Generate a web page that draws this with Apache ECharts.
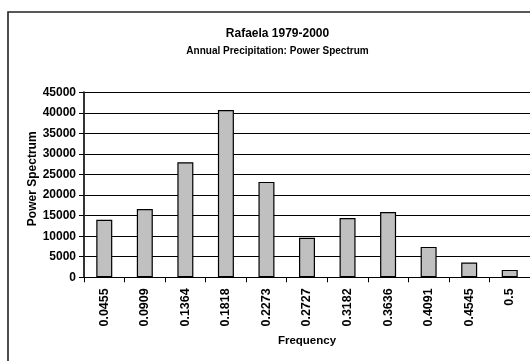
<!DOCTYPE html>
<html>
<head>
<meta charset="utf-8">
<script src="https://cdn.jsdelivr.net/npm/echarts@6/dist/echarts.min.js"></script>
<style>
  html, body { margin: 0; padding: 0; background: #fff; }
  #chart { width: 530px; height: 361px; }
</style>
</head>
<body>
<div id="chart"></div>
<script>
// Rafaela 1979-2000 annual precipitation: power spectrum by frequency
var frequencies = ['0.0455', '0.0909', '0.1364', '0.1818', '0.2273', '0.2727',
                   '0.3182', '0.3636', '0.4091', '0.4545', '0.5'];
var powerValues = [14000, 16600, 28000, 40700, 23200, 9600,
                   14400, 15900, 7400, 3600, 1800];
var yTicks = { min: 0, max: 45000, step: 5000 };

var FONT = '"Liberation Sans", Arial, sans-serif';

var chart = echarts.init(document.getElementById('chart'), null, { renderer: 'canvas' });

chart.setOption({
  animation: false,
  backgroundColor: '#fff',
  textStyle: { fontFamily: FONT },
  title: [
    {
      text: 'Rafaela 1979-2000',
      left: 272.5, top: 23, textAlign: 'center',
      textStyle: { fontFamily: FONT, fontSize: 12, fontWeight: 'bold', color: '#000' }
    },
    {
      text: 'Annual Precipitation: Power Spectrum',
      left: 272.5, top: 41, textAlign: 'center',
      textStyle: { fontFamily: FONT, fontSize: 10, fontWeight: 'bold', color: '#000' }
    }
  ],
  graphic: [
    {
      type: 'rect',
      shape: { x: 8, y: 12, width: 600, height: 400 },
      style: { fill: 'none', stroke: '#222', lineWidth: 1.6 },
      z: 100
    }
  ],
  grid: { left: 84, top: 92.3, bottom: 83.7, right: -2.5, containLabel: false },
  xAxis: {
    type: 'category',
    data: frequencies,
    boundaryGap: true,
    name: 'Frequency',
    nameLocation: 'middle',
    nameGap: 58,
    nameMoveOverlap: false,
    nameTextStyle: { fontFamily: FONT, fontSize: 11.5, fontWeight: 'bold', color: '#000' },
    axisLine: { lineStyle: { color: '#000', width: 1 } },
    axisTick: { show: true, alignWithLabel: false, length: 5, inside: false, lineStyle: { color: '#000' } },
    axisLabel: {
      rotate: 90, margin: 11, interval: 0,
      fontFamily: FONT, fontSize: 12.5, fontWeight: 'bold', color: '#000'
    },
    splitLine: { show: false }
  },
  yAxis: {
    type: 'value',
    min: yTicks.min, max: yTicks.max, interval: yTicks.step,
    name: 'Power Spectrum',
    nameLocation: 'middle',
    nameGap: 45,
    nameMoveOverlap: false,
    nameTextStyle: { fontFamily: FONT, fontSize: 12, fontWeight: 'bold', color: '#000', padding: [0, 0, 0, 12] },
    axisLine: { show: true, lineStyle: { color: '#333', width: 2 } },
    axisTick: { show: true, length: 5, lineStyle: { color: '#000' } },
    axisLabel: {
      margin: 8, fontFamily: FONT, fontSize: 12, fontWeight: 'bold', color: '#000',
      formatter: function (v) { return String(v); }
    },
    splitLine: { show: true, lineStyle: { color: '#000', width: 1 } }
  },
  series: [
    {
      type: 'bar',
      data: powerValues,
      barWidth: 16,
      itemStyle: { color: '#c0c0c0', borderColor: '#000', borderWidth: 1.2 }
    }
  ]
});
</script>
</body>
</html>
